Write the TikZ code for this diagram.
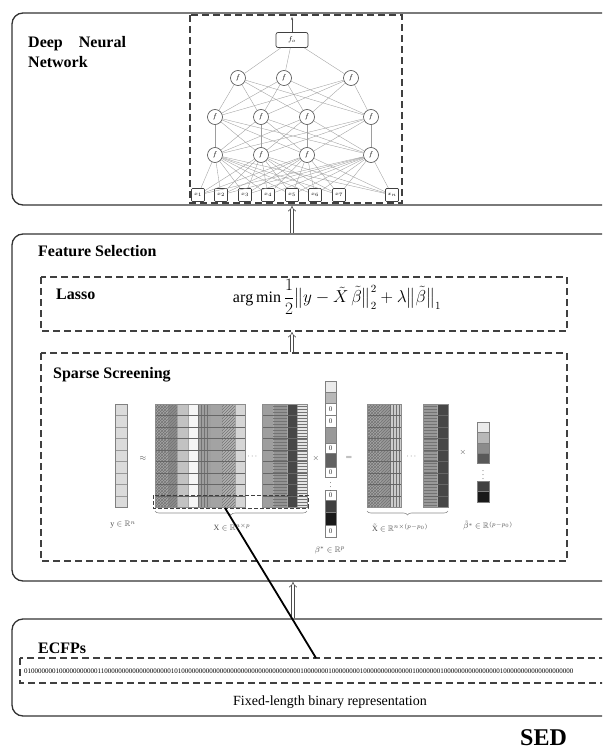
\documentclass[tikz,border=0pt]{standalone}
\usepackage{amsmath}
\usepackage{amssymb}
\usepackage{fontspec}
\setmainfont{Liberation Serif}
\usetikzlibrary{arrows.meta,patterns,decorations.pathreplacing}
\tikzset{
  outerbox/.style={draw=black!80,line width=1.3pt,rounded corners=11pt},
  dashbox/.style={draw=black!75,line width=1.8pt,dash pattern=on 7pt off 4pt},
  heading/.style={font=\fontsize{16}{20}\selectfont\bfseries,anchor=base west,inner sep=0pt},
  neuron/.style={circle,draw=black!70,line width=0.6pt,fill=white,minimum size=15pt,inner sep=0pt,font=\fontsize{7}{8}\selectfont},
  inbox/.style={draw=black!75,line width=0.7pt,rounded corners=1pt,fill=white,minimum width=13pt,minimum height=13pt,inner sep=0pt,font=\fontsize{5}{6}\selectfont},
  edge/.style={draw=black!38,line width=0.35pt},
  hollow/.style={draw=black!70,double=white,double distance=2.2pt,line width=0.6pt,-{Implies[length=5pt]}},
  cellfill/.style={draw=black!50,line width=0.4pt},
  small/.style={font=\fontsize{8}{9}\selectfont,text=black!70,inner sep=0pt},
  brace/.style={draw=black!45,line width=0.6pt,decorate,decoration={brace,mirror,amplitude=4pt}},
  pat/.style={pattern=#1,pattern color=black!55},
}
\begin{document}
\begin{tikzpicture}[x=1pt,y=-1pt]
\useasboundingbox (0,0) rectangle (602,749);
\clip (0,0) rectangle (602,749);
\fill[white] (0,0) rectangle (602,749);

% ---------- outer boxes ----------
\draw[outerbox] (12,13) rectangle (640,205);
\draw[outerbox] (12,234) rectangle (640,581);
\draw[outerbox] (12,619) rectangle (640,716);

\node[heading] (dnnlab1) at (28,48) {Deep\hspace{12pt} Neural};
\node[heading] (dnnlab2) at (28,68) {Network};
\node[heading] (fslab) at (38,256) {Feature Selection};

% ---------- DNN ----------
\draw[dashbox] (190,15) rectangle (402,203);
\node[draw=black!75,line width=0.7pt,rounded corners=2pt,minimum width=32pt,minimum height=15pt,inner sep=0pt,font=\fontsize{7}{8}\selectfont] (fo) at (292,40) {$f_o$};
\coordinate (yout) at (292,17);
\draw[black!70,line width=0.6pt,-{Stealth[length=3pt]}] (fo) -- (yout);

\node[neuron] (c1) at (238,78) {$f$};
\node[neuron] (c2) at (284,78) {$f$};
\node[neuron] (c3) at (351,78) {$f$};
\foreach \i/\x in {1/215,2/261,3/307,4/371}{
  \node[neuron] (b\i) at (\x,117) {$f$};
  \node[neuron] (a\i) at (\x,155) {$f$};
}
\foreach \i/\x/\l in {1/198/1,2/221/2,3/245/3,4/268/4,5/292/5,6/315/6,7/339/7,8/392/n}{
  \node[inbox] (i\i) at (\x,195) {$x_{\l}$};
}
\foreach \i in {1,...,8}{\foreach \j in {1,...,4}{\draw[edge] (i\i) -- (a\j);}}
\foreach \i in {1,...,4}{\foreach \j in {1,...,4}{\draw[edge] (a\i) -- (b\j);}}
\foreach \i in {1,...,4}{\foreach \j in {1,...,3}{\draw[edge] (b\i) -- (c\j);}}
\foreach \j in {1,...,3}{\draw[edge] (c\j) -- (fo);}

% arrows between stages
\coordinate (h1s) at (292,233);
\coordinate (h1e) at (292,206);
\draw[hollow] (h1s) -- (h1e);

% ---------- Lasso ----------
\draw[dashbox] (41,277) rectangle (567,331);
\node[heading] (lassolab) at (56,299) {Lasso};
\node[inner sep=0pt,font=\fontsize{16}{19}\selectfont] (formula) at (337,297)
  {$\operatorname*{arg\,min}\dfrac{1}{2}\big\| y-\tilde{X}\,\tilde{\beta}\big\|_2^2+\lambda\big\|\tilde{\beta}\big\|_1$};

\coordinate (h2s) at (292,352);
\coordinate (h2e) at (292,332);
\draw[hollow] (h2s) -- (h2e);

% ---------- Sparse Screening ----------
\draw[dashbox] (41,353) rectangle (567,561);
\node[heading] (sslab) at (53,378) {Sparse Screening};

% y vector
\fill[black!14] (115,404) rectangle (127,507);
\foreach \yy in {415.5,427,438.5,450,461.5,473,484.5,496}{\draw[black!40,line width=0.4pt] (115,\yy) -- (127,\yy);}
\draw[black!50,line width=0.5pt] (115,404) rectangle (127,507);
\node[small] (ylab) at (123,525) {$\mathrm{y}\in\mathbb{R}^n$};
\node[small] (approx) at (143,458) {$\approx$};

% X matrix part 1
\foreach \a/\b/\c in {155/167/black!35,167/177/black!45,177/188/black!24,188/198/black!4,198/210/black!38,210/222/black!36,222/235/black!30,235/245/black!16}{
  \fill[\c] (\a,404) rectangle (\b,507);
  \draw[black!35,line width=0.3pt] (\a,404) -- (\a,507);
}
\foreach \a/\b/\p in {155/167/crosshatch,167/177/north east lines,198/210/vertical lines,222/235/north east lines}{
  \fill[pat=\p] (\a,404) rectangle (\b,507);
}
% X matrix part 2
\foreach \a/\b/\c in {262/273/black!38,273/287/black!42,287/297/black!72,297/307/black!10}{
  \fill[\c] (\a,404) rectangle (\b,507);
  \draw[black!35,line width=0.3pt] (\a,404) -- (\a,507);
}
\foreach \a/\b/\p in {273/287/horizontal lines,297/307/horizontal lines}{
  \fill[pat=\p] (\a,404) rectangle (\b,507);
}
\foreach \yy in {415.5,427,438.5,450,461.5,473,484.5,496}{
  \draw[black!60,line width=0.5pt] (155,\yy) -- (245,\yy);
  \draw[black!60,line width=0.5pt] (262,\yy) -- (307,\yy);
}
\draw[black!45,line width=0.4pt] (155,404) rectangle (245,507);
\draw[black!45,line width=0.4pt] (262,404) rectangle (307,507);
\node[small] (xdots) at (253,457) {$\cdots$};
\draw[black!75,line width=0.8pt,dash pattern=on 4pt off 2pt] (153,495) rectangle (308,508);
\coordinate (braceXa) at (155,511);
\coordinate (braceXb) at (307,511);
\draw[brace] (braceXa) -- (braceXb);
\node[small] (xlab) at (232,527) {$\mathrm{X}\in\mathbb{R}^{n\times p}$};
\node[small] (times1) at (316,458) {$\times$};

% beta* vector
\foreach \a/\b/\c in {381/392/black!8,392/403/black!28,403/415/white,415/427/white,427/443/black!40,443/453/white,453/467/black!62,467/477/white,
                      490/500/white,500/512/black!75,512/525/black!90,525/537/white}{
  \fill[\c] (325,\a) rectangle (336,\b);
  \draw[cellfill] (325,\a) rectangle (336,\b);
}
\foreach \yy in {409,421,448,472,495,531}{\node[font=\fontsize{7}{8}\selectfont,text=black!80,inner sep=0pt] at (330.5,\yy) {0};}
\node[small] (bdots) at (330.5,484) {$\vdots$};
\node[small] (blab) at (330,550) {$\beta^{*}\in\mathbb{R}^{p}$};
\node[small] (eq) at (349,458) {$=$};

% X tilde
\foreach \a/\b/\c in {367/380/black!35,380/390/black!40,390/401/black!20}{
  \fill[\c] (\a,404) rectangle (\b,507);
  \draw[black!35,line width=0.3pt] (\a,404) -- (\a,507);
}
\foreach \a/\b/\p in {367/380/crosshatch,380/390/north east lines,390/401/vertical lines}{
  \fill[pat=\p] (\a,404) rectangle (\b,507);
}
\foreach \a/\b/\c in {423/437/black!40,437/448/black!72}{
  \fill[\c] (\a,404) rectangle (\b,507);
  \draw[black!35,line width=0.3pt] (\a,404) -- (\a,507);
}
\fill[pat=horizontal lines] (423,404) rectangle (437,507);
\foreach \yy in {415.5,427,438.5,450,461.5,473,484.5,496}{
  \draw[black!60,line width=0.5pt] (367,\yy) -- (401,\yy);
  \draw[black!60,line width=0.5pt] (423,\yy) -- (448,\yy);
}
\draw[black!45,line width=0.4pt] (367,404) rectangle (401,507);
\draw[black!45,line width=0.4pt] (423,404) rectangle (448,507);
\node[small] (xtdots) at (412,457) {$\cdots$};
\coordinate (braceTa) at (367,511);
\coordinate (braceTb) at (448,511);
\draw[brace] (braceTa) -- (braceTb);
\node[small] (xtlab) at (400,528) {$\tilde{\mathrm{X}}\in\mathbb{R}^{n\times(p-p_0)}$};
\node[small] (times2) at (463,452) {$\times$};

% beta tilde
\foreach \a/\b/\c in {422/432/black!8,432/443/black!28,443/453/black!45,453/463/black!65,481/491/black!75,491/502/black!90}{
  \fill[\c] (477,\a) rectangle (489,\b);
  \draw[cellfill] (477,\a) rectangle (489,\b);
}
\node[small] (btdots) at (483,472) {$\vdots$};
\node[small] (btlab) at (488,526) {$\tilde{\beta}^{*}\in\mathbb{R}^{(p-p_0)}$};

% ---------- ECFPs ----------
\coordinate (h3s) at (293,618);
\coordinate (h3e) at (293,582);
\draw[hollow] (h3s) -- (h3e);

\node[heading] (ecfplab) at (38,653) {ECFPs};
\draw[dashbox] (20,658) rectangle (640,683);
\node[anchor=base west,inner sep=0pt,font=\fontsize{7}{8}\selectfont] (bits) at (24,673)
  {0100000001000000000001100000000000000000001010000000000000000000000000000000000100000001000000001000000000000001000000010000000000000000100000000000000000000};
\node[anchor=base,inner sep=0pt,font=\fontsize{14}{16}\selectfont] (fixlab) at (330,705) {Fixed-length binary representation};

% link from selected row to the fingerprint
\coordinate (rowpt) at (225,508);
\coordinate (bitpt) at (316,658);
\draw[black,line width=1.8pt] (rowpt) -- (bitpt);

\node[anchor=base west,inner sep=0pt,font=\fontsize{24}{28}\selectfont\bfseries] (sed) at (520,745) {SED};
\end{tikzpicture}
\end{document}
